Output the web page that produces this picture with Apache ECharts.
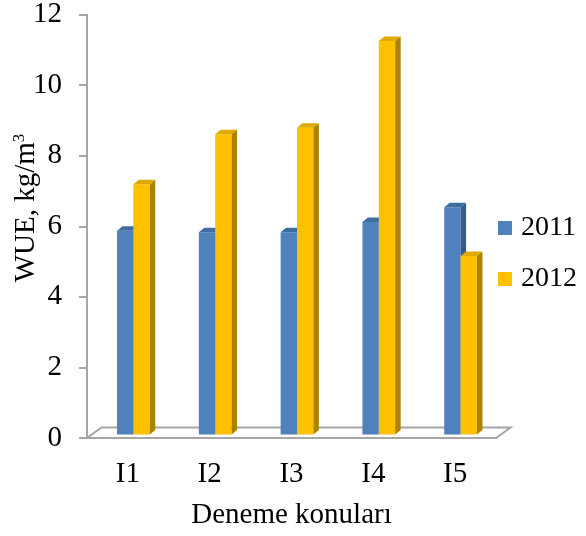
<!DOCTYPE html>
<html>
<head>
<meta charset="utf-8">
<script src="https://cdn.jsdelivr.net/npm/echarts@6/dist/echarts.min.js"></script>
<style>
html,body{margin:0;padding:0;background:#fff;}
#chart{width:586px;height:536px;}
</style>
</head>
<body>
<div id="chart"></div>
<script>
const categories = ['I1', 'I2', 'I3', 'I4', 'I5'];
const values2011 = [5.77, 5.73, 5.73, 6.02, 6.44];
const values2012 = [7.09, 8.51, 8.69, 11.15, 5.06];
const seriesNames = ['2011', '2012'];
const yMin = 0, yMax = 12, yStep = 2;

const FONT = 'Liberation Serif, Times New Roman, serif';
const colors = [
  { front: '#4F81BD', top: '#3F6CA3', side: '#385D8A' },
  { front: '#FFC000', top: '#E0A900', side: '#AC8300' }
];

function barRender(idx) {
  const c = colors[idx];
  return function (params, api) {
    const ci = api.value(0), v = api.value(1);
    const base = api.coord([ci, 0]);
    const tp = api.coord([ci, v]);
    const bw = api.size([1, 0])[0];
    const w = bw * 0.2;
    const ox = 5.5, oy = -3.5;
    const x0 = base[0] + ox + (idx === 0 ? -w : 0);
    const x1 = x0 + w;
    const yb = base[1] + oy, yt = tp[1] + oy;
    const dx = 5.5, dy = -4.5;
    return {
      type: 'group',
      children: [
        { type: 'rect', shape: { x: x0, y: yt, width: w, height: yb - yt }, style: { fill: c.front } },
        { type: 'polygon', shape: { points: [[x0, yt], [x1, yt], [x1 + dx, yt + dy], [x0 + dx, yt + dy]] }, style: { fill: c.top } },
        { type: 'polygon', shape: { points: [[x1, yt], [x1 + dx, yt + dy], [x1 + dx, yb + dy], [x1, yb]] }, style: { fill: c.side } }
      ]
    };
  };
}

function floorRender(params, api) {
  const cs = params.coordSys;
  const y0 = api.coord([0, 0])[1];
  const xL = cs.x, xR = cs.x + cs.width;
  const dx = 14.5, dy = -10.5;
  return {
    type: 'polygon',
    shape: { points: [[xL, y0], [xR, y0], [xR + dx, y0 + dy], [xL + dx, y0 + dy]] },
    style: { fill: '#ffffff', stroke: '#A6A6A6', lineWidth: 2 }
  };
}

const chart = echarts.init(document.getElementById('chart'), null, { renderer: 'canvas' });
chart.setOption({
  animation: false,
  backgroundColor: '#ffffff',
  grid: { left: 87, right: 90, top: 14, bottom: 98, containLabel: false },
  legend: {
    orient: 'vertical',
    left: 493,
    top: 209,
    itemWidth: 14,
    itemHeight: 14,
    itemGap: 23,
    icon: 'rect',
    data: seriesNames,
    textStyle: { fontFamily: FONT, fontSize: 28, color: '#000', padding: [0, 0, 0, 4] }
  },
  xAxis: {
    type: 'category',
    data: categories,
    name: 'Deneme konuları',
    nameLocation: 'middle',
    nameGap: 63,
    nameTextStyle: { fontFamily: FONT, fontSize: 29, color: '#000' },
    axisLine: { show: false },
    axisTick: { show: false },
    axisLabel: { fontFamily: FONT, fontSize: 29, color: '#000', margin: 22 },
    splitLine: { show: false }
  },
  yAxis: {
    type: 'value',
    min: yMin,
    max: yMax,
    interval: yStep,
    axisLine: { show: true, lineStyle: { color: '#A6A6A6', width: 2 } },
    axisTick: { show: true, length: 8, lineStyle: { color: '#A6A6A6', width: 2 } },
    axisLabel: { fontFamily: FONT, fontSize: 29, color: '#000', margin: 25 },
    splitLine: { show: false }
  },
  graphic: [{
    type: 'text',
    x: 26,
    y: 208,
    rotation: Math.PI / 2,
    style: {
      text: '{a|WUE, kg/m}{b|3}',
      align: 'center',
      verticalAlign: 'middle',
      rich: {
        a: { fontFamily: FONT, fontSize: 29, lineHeight: 30, fill: '#000' },
        b: { fontFamily: FONT, fontSize: 17, lineHeight: 17, fill: '#000', verticalAlign: 'top' }
      }
    }
  }],
  series: [
    {
      type: 'custom',
      name: 'floor',
      renderItem: floorRender,
      data: [[0, 0]],
      z: 1,
      clip: false,
      silent: true
    },
    {
      type: 'custom',
      name: seriesNames[0],
      renderItem: barRender(0),
      itemStyle: { color: colors[0].front },
      encode: { x: 0, y: 1 },
      data: values2011.map((v, i) => [i, v]),
      z: 2,
      clip: false
    },
    {
      type: 'custom',
      name: seriesNames[1],
      renderItem: barRender(1),
      itemStyle: { color: colors[1].front },
      encode: { x: 0, y: 1 },
      data: values2012.map((v, i) => [i, v]),
      z: 3,
      clip: false
    }
  ]
});
</script>
</body>
</html>
